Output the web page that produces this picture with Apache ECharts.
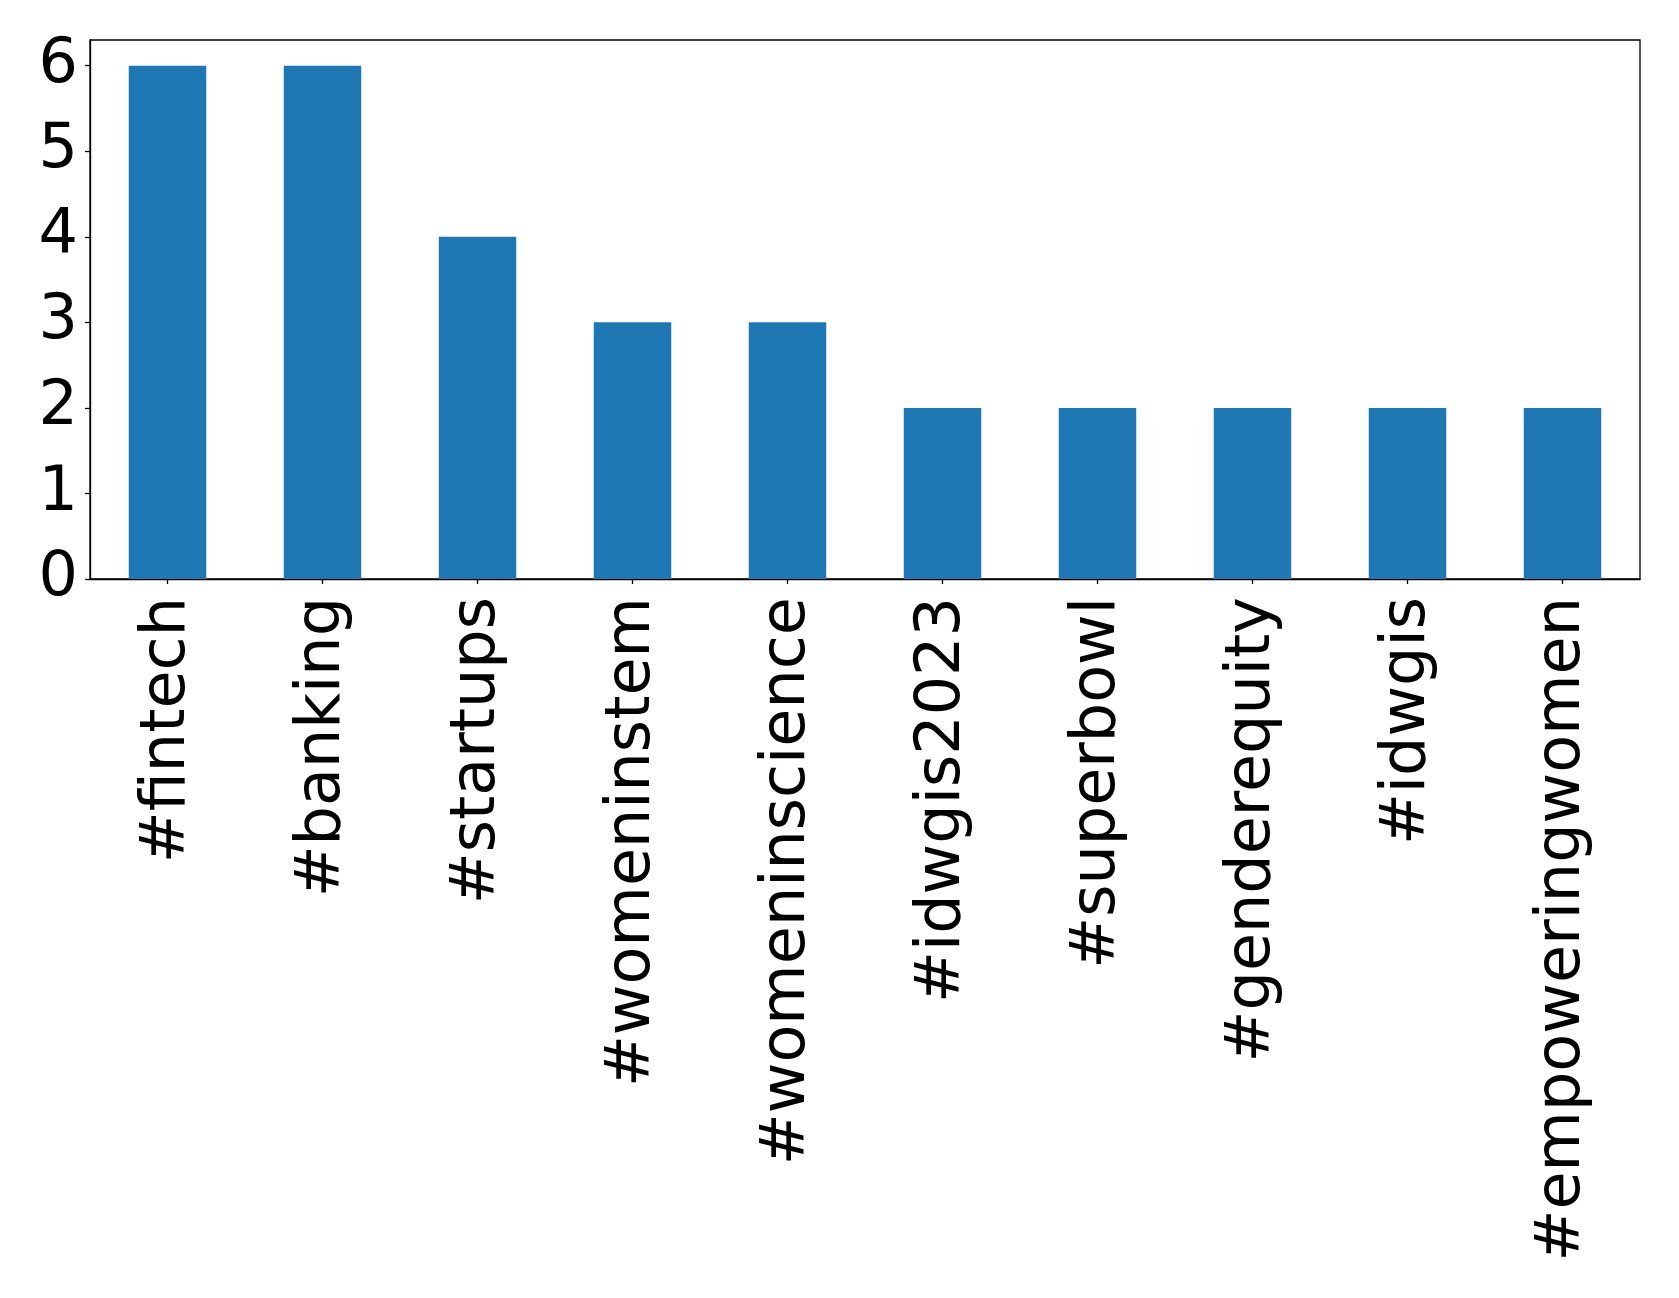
<!DOCTYPE html>
<html>
<head>
<meta charset="utf-8">
<script src="https://cdn.jsdelivr.net/npm/echarts@6/dist/echarts.min.js"></script>
<style>
html,body{margin:0;padding:0;background:#fff;}
#chart{width:1679px;height:1298px;}
</style>
</head>
<body>
<div id="chart"></div>
<script>
var categories = ['#fintech','#banking','#startups','#womeninstem','#womeninscience','#idwgis2023','#superbowl','#genderequity','#idwgis','#empoweringwomen'];
var counts = [6,6,4,3,3,2,2,2,2,2];
var yTicks = [0,1,2,3,4,5,6];

var FONT = 'DejaVu Sans';
var chart = echarts.init(document.getElementById('chart'), null, {renderer:'canvas'});
chart.setOption({
  animation: false,
  backgroundColor: '#fff',
  grid: {left: 90, right: 39, top: 40, bottom: 719, show: true, borderColor: '#000', borderWidth: 1.3, containLabel: false},
  xAxis: {
    type: 'category',
    data: categories,
    boundaryGap: true,
    axisLine: {show: true, lineStyle: {color: '#000', width: 1.3}},
    axisTick: {show: true, alignWithLabel: true, length: 5, lineStyle: {color: '#000', width: 1.3}},
    axisLabel: {rotate: 90, margin: 18, fontFamily: FONT, fontSize: 62, color: '#000', interval: 0},
    splitLine: {show: false}
  },
  yAxis: {
    type: 'value',
    min: 0, max: 6.3, interval: 1,
    axisLine: {show: true, lineStyle: {color: '#000', width: 1.3}},
    axisTick: {show: true, length: 5, customValues: yTicks, lineStyle: {color: '#000', width: 1.3}},
    axisLabel: {margin: 12, fontFamily: FONT, fontSize: 62, color: '#000', customValues: yTicks},
    splitLine: {show: false}
  },
  series: [{
    type: 'bar',
    data: counts,
    barWidth: '50%',
    itemStyle: {color: '#1f77b4'}
  }]
});
</script>
</body>
</html>
